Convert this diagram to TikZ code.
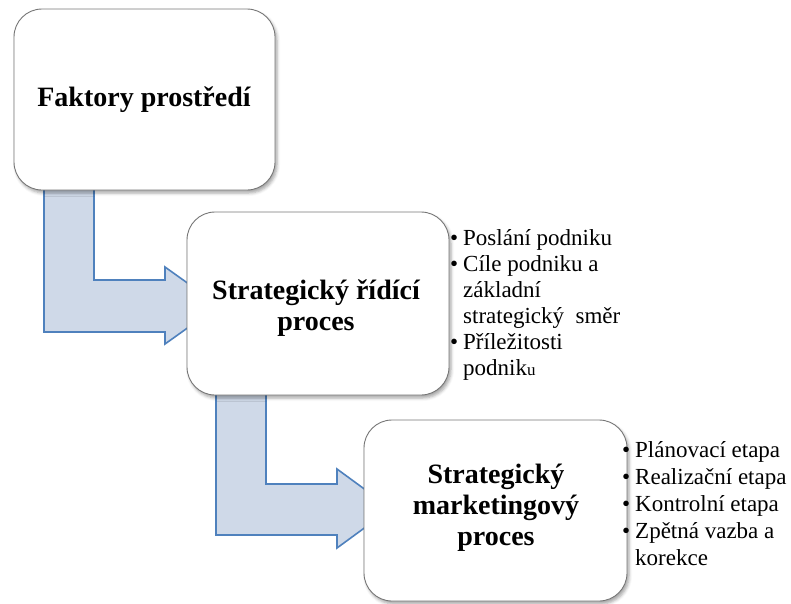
\documentclass[tikz,border=0pt]{standalone}
\usepackage{fontspec}
\setmainfont{Liberation Serif}
\usetikzlibrary{shadows.blur}
\definecolor{arrowfill}{RGB}{207,217,232}
\definecolor{arrowline}{RGB}{79,129,189}
\definecolor{boxline}{RGB}{118,118,118}
\tikzset{
  stagebox/.style={draw=boxline, line width=0.9pt, fill=white, rounded corners=28pt,
    inner sep=0pt,
    blur shadow={shadow xshift=2pt, shadow yshift=-3pt, shadow blur radius=3pt, shadow opacity=35}},
  bentarrow/.style={draw=arrowline, fill=arrowfill, line width=1.6pt, line join=miter},
  % multi-line nodes: the base anchor sits on the last line
  title/.style={font=\bfseries\fontsize{28}{31}\selectfont, align=center, anchor=base, inner sep=0pt},
  item/.style={font=\fontsize{23}{26}\selectfont, align=left, anchor=base west, inner sep=0pt},
  itemb/.style={item, font=\fontsize{23}{27}\selectfont},
}
\newcommand{\bul}{\llap{•\hspace{5pt}}}
\begin{document}
\begin{tikzpicture}[x=1pt,y=-1pt]
\useasboundingbox (0,0) rectangle (791,603);

% bent block arrows between the stages
\draw[bentarrow] (44,180) -- (44,332) -- (165,332) -- (165,344) -- (219,305.5)
  -- (165,267) -- (165,280) -- (94,280) -- (94,180) -- cycle;
\draw[bentarrow] (216,385) -- (216,535) -- (337,535) -- (337,548) -- (391,508.5)
  -- (337,469) -- (337,484) -- (266,484) -- (266,385) -- cycle;

% stage boxes
\node[stagebox, minimum width=261pt, minimum height=181pt] (box1) at (144.5,99.5) {};
\node[stagebox, minimum width=262pt, minimum height=183pt] (box2) at (318,303.5) {};
\node[stagebox, minimum width=263pt, minimum height=181pt] (box3) at (495.5,510.5) {};

% stage titles
\node[title] (t1) at (144,106) {Faktory prostředí};
\node[title] (t2) at (316,330) {Strategický řídící\\proces};
\node[title] (t3) at (496,545) {Strategický\\marketingový\\proces};

% items of the strategic management process
\node[item] (a1) at (463,245) {\bul Poslání podniku};
\node[item] (a2) at (463,323) {\bul Cíle podniku a\\základní\\strategický\hspace{0.5em}směr};
\node[item] (a3) at (463,375) {\bul Příležitosti\\podnik{\fontsize{17}{17}\selectfont u}};

% stages of the strategic marketing process
\node[itemb] (b1) at (635,457) {\bul Plánovací etapa};
\node[itemb] (b2) at (635,484) {\bul Realizační etapa};
\node[itemb] (b3) at (635,511) {\bul Kontrolní etapa};
\node[itemb] (b4) at (635,565) {\bul Zpětná vazba a\\korekce};
\end{tikzpicture}
\end{document}
